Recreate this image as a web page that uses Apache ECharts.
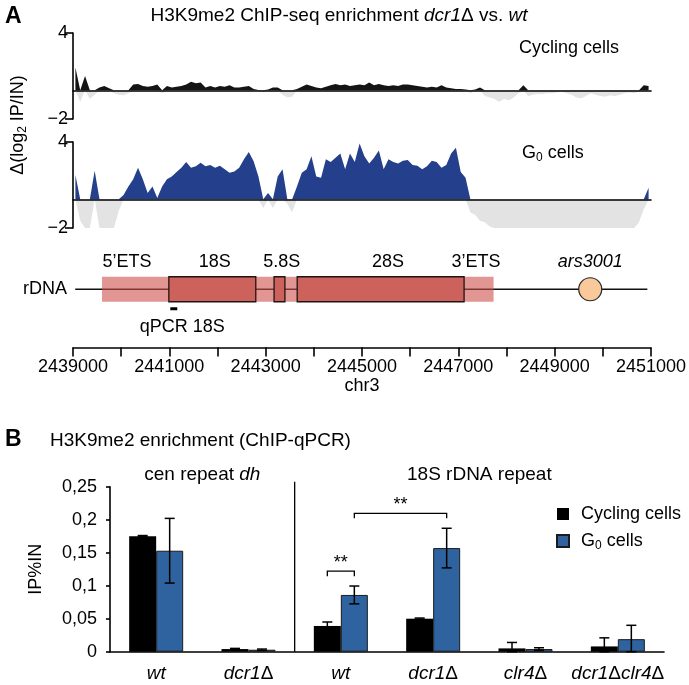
<!DOCTYPE html>
<html><head><meta charset="utf-8">
<script src="https://cdn.jsdelivr.net/npm/echarts@6/dist/echarts.min.js"></script>
<style>html,body{margin:0;padding:0;background:#fff}#c{width:689px;height:685px}</style>
</head><body><div id="c"></div>
<script>
// ---------------- Panel A data ----------------
const genomeStart = 2439000;
const genomeEnd = 2451000;
const binSize = 100;
const cyclingTrack = [
 1.6,-0.8,1.0,-0.6,-0.3,0.2,0.3,0.15,-0.2,-0.3,
 -0.35,-0.2,0.4,0.45,0.3,0.25,0.3,0.4,-0.2,0.3,
 0.2,0.25,0.3,0.4,0.6,0.5,0.55,0.2,0.3,0.2,
 0.3,0.25,0.35,0.2,0.2,0.25,0.3,0.1,0.02,-0.15,
 0.05,0.2,0.2,-0.3,-0.5,-0.45,0.1,0.25,0.4,0.3,
 0.2,0.15,0.25,0.35,0.45,0.35,0.4,0.3,0.35,0.4,
 0.35,0.55,0.35,0.45,0.35,0.3,0.35,0.3,0.4,0.4,
 0.35,0.3,0.25,0.2,0.25,0.2,0.35,0.2,0.15,0.1,
 0.1,0.05,-0.2,0.05,0.2,-0.4,-0.5,-0.6,-0.8,-0.6,
 -0.7,-0.5,-0.2,0.35,-0.4,-0.3,-0.25,-0.25,-0.2,-0.2,
 -0.15,-0.1,-0.2,-0.3,-0.5,-0.55,-0.4,-0.2,-0.3,-0.4,
 -0.45,-0.35,-0.4,-0.3,-0.2,-0.15,-0.2,-0.1,0.35,0.3
];
const g0Track = [
 1.7,-1.5,-2,-2,2.0,-2,-2,-2,-2,-0.8,
 0.3,0.9,1.4,2.2,1.4,0.45,0.9,0.1,0.9,1.4,
 1.6,1.9,2.2,2.6,2.2,2.3,2.55,2.3,2.4,2.2,
 2.35,2.1,1.85,1.95,2.2,2.8,3.3,2.65,1.6,-0.6,
 0.45,-0.6,1.6,2.1,-0.3,-0.9,0.9,1.85,2.1,3.0,
 1.6,1.5,2.8,2.6,2.9,3.2,2.1,3.2,2.6,3.9,
 3.0,2.5,2.9,3.4,2.1,2.8,2.6,2.5,2.7,2.75,
 2.4,2.35,2.1,2.3,2.7,2.6,2.2,2.4,3.2,3.6,
 1.9,1.5,-0.9,-1.1,-1.5,-1.6,-1.9,-2,-2,-2,
 -2,-2,-2,-2,-2,-2,-2,-2,-2,-2,
 -2,-2,-2,-2,-2,-2,-2,-2,-2,-2,
 -2,-2,-2,-2,-2,-2,-2,-1.6,-0.7,0.8
];
const trackTickValues = [-2, 4];
const genomeTickLabels = ['2439000','2441000','2443000','2445000','2447000','2449000','2451000'];

// rDNA diagram (genome coordinates)
const backboneSpan = [2439046, 2450925];
const transcribedSpan = [2439602, 2447732];
const rrnaNames = ['18S', '5.8S', '28S'];
const rrnaStarts = [2440990, 2443175, 2443655];
const rrnaEnds = [2442795, 2443400, 2447120];
const arsCenter = 2449739;
const qpcrAmplicon = [2441020, 2441165];
const qpcrLabelAt = 2441270;
const featureLabels = ['5’ETS', '18S', '5.8S', '28S', '3’ETS', 'ars3001'];
const featureLabelAt = [2440120, 2441945, 2443335, 2445542, 2447367, 2449739];

// ---------------- Panel B data ----------------
const strains = ['wt', 'dcr1Δ', 'wt', 'dcr1Δ', 'clr4Δ', 'dcr1Δclr4Δ'];
const cyclingIP = [0.175, 0.004, 0.039, 0.050, 0.005, 0.008];
const g0IP = [0.153, 0.003, 0.086, 0.157, 0.004, 0.019];
const cyclingErr = [0.001, 0.001, 0.006, 0.001, 0.009, 0.013];
const g0Err = [0.049, 0.001, 0.0135, 0.030, 0.002, 0.021];
const ipTicks = ['0', '0,05', '0,1', '0,15', '0,2', '0,25'];
const regionNames = ['cen repeat', '18S rDNA repeat'];
const regionFirst = [0, 2];
const regionLast = [1, 5];
// significance brackets: [category, side(-1 cycling / 1 G0)] -> [category, side], level
const sigFromCat = [2, 2];
const sigFromSide = [-1, 1];
const sigToCat = [2, 3];
const sigToSide = [1, 1];
const sigLevel = [0.122, 0.2097];
const sigText = ['**', '**'];

// ---------------- chart ----------------
const FONT = '"Liberation Sans", Arial, Helvetica, sans-serif';
const BAR_W = 27;
const chart = echarts.init(document.getElementById('c'), null, {renderer: 'canvas'});

function part(track, positive) {
  return track.map((v, i) => [genomeStart + (i + 0.5) * binSize, positive ? Math.max(v, 0) : Math.min(v, 0)]);
}
function trackX(grid) {
  return {gridIndex: grid, type: 'value', min: genomeStart, max: genomeEnd, z: 5,
    axisLine: {show: true, onZero: true, lineStyle: {color: '#000', width: 1.6}},
    axisTick: {show: false}, axisLabel: {show: false}, splitLine: {show: false}};
}
function trackY(grid) {
  return {gridIndex: grid, type: 'value', min: trackTickValues[0], max: trackTickValues[1],
    interval: trackTickValues[1] - trackTickValues[0],
    axisLine: {show: true, lineStyle: {color: '#000', width: 1.6}},
    axisTick: {show: true, length: 8, lineStyle: {color: '#000', width: 1.6}},
    axisLabel: {fontSize: 18, color: '#000', fontFamily: FONT, margin: 5,
      formatter: v => v < 0 ? '\u2212' + Math.abs(v) : String(v)},
    splitLine: {show: false}};
}
function areaSeries(x, y, data, color) {
  return {type: 'line', xAxisIndex: x, yAxisIndex: y, data: data, symbol: 'none', silent: true,
    lineStyle: {width: 0}, areaStyle: {color: color, opacity: 1}, animation: false};
}
const DIAG_X = 2, DIAG_Y = 2;
function diagSeries(data, renderItem, z) {
  return {type: 'custom', xAxisIndex: DIAG_X, yAxisIndex: DIAG_Y, data: data, renderItem: renderItem,
    silent: true, animation: false, z: z || 2, clip: false};
}
const italic = {fontStyle: 'italic', fontSize: 19, fontFamily: FONT, color: '#000'};
const upright = {fontSize: 19, fontFamily: FONT, color: '#000'};

function strainLabel(s) {
  const parts = s.split('Δ');
  let out = '';
  parts.forEach((p, i) => {
    if (p) out += '{i|' + p + '}';
    if (i < parts.length - 1) out += '{n|Δ}';
  });
  return out;
}

const option = {
  animation: false,
  backgroundColor: '#fff',
  textStyle: {fontFamily: FONT},
  grid: [
    {left: 73, right: 38, top: 33, height: 86},
    {left: 73, right: 38, top: 142, height: 86},
    {left: 73, right: 38, top: 231, height: 116.5},
    {left: 110, right: 25, top: 486.7, height: 165}
  ],
  xAxis: [
    trackX(0), trackX(1),
    {gridIndex: 2, type: 'value', min: genomeStart, max: genomeEnd, interval: 1000,
      axisLine: {show: true, onZero: false, lineStyle: {color: '#000', width: 1.6}},
      axisTick: {show: true, length: 9, lineStyle: {color: '#000', width: 1.6}},
      axisLabel: {fontSize: 18, color: '#000', fontFamily: FONT, margin: 11,
        formatter: v => genomeTickLabels.indexOf(String(v)) >= 0 ? String(v) : ''},
      splitLine: {show: false},
      name: 'chr3', nameLocation: 'middle', nameGap: 25,
      nameTextStyle: {fontSize: 18, color: '#000', fontFamily: FONT}},
    {gridIndex: 3, type: 'category', data: strains,
      axisLine: {show: true, lineStyle: {color: '#000', width: 1.6}},
      axisTick: {show: false},
      axisLabel: {interval: 0, margin: 13, formatter: strainLabel, rich: {i: italic, n: upright}}}
  ],
  yAxis: [
    trackY(0), trackY(1),
    {gridIndex: 2, type: 'value', min: -1, max: 1, show: false},
    {gridIndex: 3, type: 'value', min: 0, max: 0.25, interval: 0.05,
      axisLine: {show: true, lineStyle: {color: '#000', width: 1.6}},
      axisTick: {show: true, length: 4, lineStyle: {color: '#000', width: 1.6}},
      axisLabel: {fontSize: 18, color: '#000', fontFamily: FONT, margin: 13,
        formatter: (v) => ipTicks[Math.round(v / 0.05)]},
      splitLine: {show: false},
      name: 'IP%IN', nameLocation: 'middle', nameGap: 65, nameRotate: 90,
      nameTextStyle: {fontSize: 18, color: '#000', fontFamily: FONT}}
  ],
  legend: {
    data: ['Cycling cells', 'G0 cells'], orient: 'vertical', left: 556, top: 505, padding: 0,
    itemWidth: 12, itemHeight: 12, itemGap: 9, icon: 'rect',
    formatter: n => n === 'G0 cells' ? '{f|G}{s|0}{t| cells}' : '{f|' + n + '}',
    textStyle: {fontSize: 18, color: '#000', fontFamily: FONT,
      rich: {f: {fontSize: 18, fontFamily: FONT, color: '#000', padding: [0, 0, 0, 7]},
             t: {fontSize: 18, fontFamily: FONT, color: '#000'},
             s: {fontSize: 12, fontFamily: FONT, color: '#000', padding: [9, 0, 0, 0]}}}
  },
  graphic: [
    {type: 'text', x: 5, y: 17, style: {text: 'A', fontSize: 23, fontWeight: 'bold', fontFamily: FONT, fill: '#000', verticalAlign: 'middle'}},
    {type: 'text', x: 339, y: 16, style: {text: '{t|H3K9me2 ChIP-seq enrichment }{i|dcr1}{t|Δ vs. }{i|wt}', align: 'center', verticalAlign: 'middle',
      rich: {t: {fontSize: 19, fontFamily: FONT, fill: '#000'}, i: {fontSize: 19, fontFamily: FONT, fontStyle: 'italic', fill: '#000'}}}},
    {type: 'text', x: 519, y: 48, style: {text: 'Cycling cells', fontSize: 18, fontFamily: FONT, fill: '#000', verticalAlign: 'middle'}},
    {type: 'text', x: 522, y: 153, style: {text: '{t|G}{s|0}{t| cells}', verticalAlign: 'middle',
      rich: {t: {fontSize: 18, fontFamily: FONT, fill: '#000'}, s: {fontSize: 12, fontFamily: FONT, fill: '#000', padding: [9, 0, 0, 0]}}}},
    {type: 'text', x: 18, y: 125, rotation: Math.PI / 2, style: {text: '{t|Δ(log}{s|2}{t| IP/IN)}', align: 'center', verticalAlign: 'middle',
      rich: {t: {fontSize: 18, fontFamily: FONT, fill: '#000'}, s: {fontSize: 12, fontFamily: FONT, fill: '#000', padding: [9, 0, 0, 0]}}}},
    {type: 'text', x: 67, y: 289, style: {text: 'rDNA', fontSize: 18, fontFamily: FONT, fill: '#000', align: 'right', verticalAlign: 'middle'}},
    {type: 'text', x: 5, y: 440, style: {text: 'B', fontSize: 23, fontWeight: 'bold', fontFamily: FONT, fill: '#000', verticalAlign: 'middle'}},
    {type: 'text', x: 50, y: 441, style: {text: 'H3K9me2 enrichment (ChIP-qPCR)', fontSize: 19, fontFamily: FONT, fill: '#000', verticalAlign: 'middle'}}
  ],
  series: [
    areaSeries(0, 0, part(cyclingTrack, false), '#e3e3e3'),
    areaSeries(0, 0, part(cyclingTrack, true), '#141414'),
    areaSeries(1, 1, part(g0Track, false), '#e3e3e3'),
    areaSeries(1, 1, part(g0Track, true), '#243f8b'),
    // rDNA backbone
    diagSeries([backboneSpan], (p, api) => {
      const a = api.coord([api.value(0), 0]), b = api.coord([api.value(1), 0]);
      return {type: 'line', shape: {x1: a[0], y1: a[1], x2: b[0], y2: b[1]}, style: {stroke: '#111', lineWidth: 1.5}};
    }, 1),
    // transcribed unit (ETS band)
    diagSeries([transcribedSpan], (p, api) => {
      const a = api.coord([api.value(0), 0]), b = api.coord([api.value(1), 0]);
      return {type: 'rect', shape: {x: a[0], y: a[1] - 12.5, width: b[0] - a[0], height: 25}, style: {fill: 'rgba(205,80,75,0.6)'}};
    }, 2),
    // rRNA boxes
    diagSeries(rrnaNames.map((n, i) => [rrnaStarts[i], rrnaEnds[i]]), (p, api) => {
      const a = api.coord([api.value(0), 0]), b = api.coord([api.value(1), 0]);
      return {type: 'rect', shape: {x: a[0], y: a[1] - 12.5, width: b[0] - a[0], height: 25}, style: {fill: '#cd615b', stroke: '#1e1414', lineWidth: 1.3}};
    }, 3),
    // ars3001
    diagSeries([[arsCenter]], (p, api) => {
      const c = api.coord([api.value(0), 0]);
      return {type: 'circle', shape: {cx: c[0], cy: c[1], r: 11.5}, style: {fill: '#f9c99c', stroke: '#2a2a2a', lineWidth: 1.2}};
    }, 3),
    // qPCR amplicon
    diagSeries([qpcrAmplicon], (p, api) => {
      const a = api.coord([api.value(0), 0]), b = api.coord([api.value(1), 0]);
      return {type: 'rect', shape: {x: a[0], y: a[1] + 18, width: b[0] - a[0], height: 3}, style: {fill: '#000'}};
    }, 3),
    diagSeries([[qpcrLabelAt]], (p, api) => {
      const c = api.coord([api.value(0), 0]);
      return {type: 'text', x: c[0], y: c[1] + 37.5, style: {text: 'qPCR 18S', fontSize: 18, fontFamily: FONT, fill: '#000', align: 'center', verticalAlign: 'middle'}};
    }, 3),
    // feature labels
    diagSeries(featureLabels.map((n, i) => [featureLabelAt[i], i]), (p, api) => {
      const c = api.coord([api.value(0), 0]);
      const name = featureLabels[api.value(1)];
      return {type: 'text', x: c[0], y: c[1] - 27, style: {text: name, fontSize: 18, fontFamily: FONT, fill: '#000',
        fontStyle: name === 'ars3001' ? 'italic' : 'normal', align: 'center', verticalAlign: 'middle'}};
    }, 3),
    // Panel B bars
    {type: 'bar', name: 'Cycling cells', xAxisIndex: 3, yAxisIndex: 3, data: cyclingIP, barWidth: BAR_W, barGap: '0%',
      itemStyle: {color: '#000'}, silent: true},
    {type: 'bar', name: 'G0 cells', xAxisIndex: 3, yAxisIndex: 3, data: g0IP, barWidth: BAR_W, barGap: '0%',
      itemStyle: {color: '#2e63a0', borderColor: '#1b1b1b', borderWidth: 1}, silent: true},
    // error bars
    {type: 'custom', xAxisIndex: 3, yAxisIndex: 3, silent: true, z: 5,
      data: strains.map((s, i) => [i, cyclingIP[i], cyclingErr[i], -1]).concat(strains.map((s, i) => [i, g0IP[i], g0Err[i], 1])),
      renderItem: (p, api) => {
        const i = api.value(0), v = api.value(1), e = api.value(2), side = api.value(3);
        const x = api.coord([i, v])[0] + side * BAR_W / 2;
        const yt = api.coord([i, v + e])[1], yb = api.coord([i, Math.max(v - e, 0)])[1];
        const st = {stroke: '#000', lineWidth: 1.5};
        return {type: 'group', children: [
          {type: 'line', shape: {x1: x, y1: yt, x2: x, y2: yb}, style: st},
          {type: 'line', shape: {x1: x - 5, y1: yt, x2: x + 5, y2: yt}, style: st},
          {type: 'line', shape: {x1: x - 5, y1: yb, x2: x + 5, y2: yb}, style: st}
        ]};
      }},
    // significance brackets
    {type: 'custom', xAxisIndex: 3, yAxisIndex: 3, silent: true, z: 5,
      data: sigLevel.map((l, k) => [sigFromCat[k], sigFromSide[k], sigToCat[k], sigToSide[k], l, k]),
      renderItem: (p, api) => {
        const x1 = api.coord([api.value(0), 0])[0] + api.value(1) * BAR_W / 2;
        const x2 = api.coord([api.value(2), 0])[0] + api.value(3) * BAR_W / 2;
        const y = api.coord([0, api.value(4)])[1];
        const st = {stroke: '#000', lineWidth: 1.3};
        return {type: 'group', children: [
          {type: 'polyline', shape: {points: [[x1, y + 5], [x1, y], [x2, y], [x2, y + 5]]}, style: Object.assign({fill: null}, st)},
          {type: 'text', x: (x1 + x2) / 2, y: y - 8, style: {text: sigText[api.value(5)], fontSize: 18, fontFamily: FONT, fill: '#000', align: 'center', verticalAlign: 'middle'}}
        ]};
      }},
    // region divider and region labels
    {type: 'custom', xAxisIndex: 3, yAxisIndex: 3, silent: true, z: 5,
      data: regionNames.map((n, k) => [regionFirst[k], regionLast[k], k]),
      renderItem: (p, api) => {
        const a = api.coord([api.value(0), 0]), b = api.coord([api.value(1), 0]);
        const top = api.coord([0, 0.25])[1];
        const k = api.value(2);
        const bw = api.size([1, 0])[0];
        const label = k === 0 ? '{t|cen repeat }{i|dh}' : '{t|' + regionNames[k] + '}';
        const kids = [{type: 'text', x: (a[0] + b[0]) / 2, y: top - 12, style: {text: label, align: 'center', verticalAlign: 'middle',
          rich: {t: {fontSize: 19, fontFamily: FONT, fill: '#000'}, i: {fontSize: 19, fontFamily: FONT, fontStyle: 'italic', fill: '#000'}}}}];
        if (k > 0) {
          const xd = a[0] - bw / 2;
          kids.push({type: 'line', shape: {x1: xd, y1: a[1], x2: xd, y2: top - 5}, style: {stroke: '#000', lineWidth: 1.3}});
        }
        return {type: 'group', children: kids};
      }}
  ]
};
chart.setOption(option);
</script>
</body></html>
